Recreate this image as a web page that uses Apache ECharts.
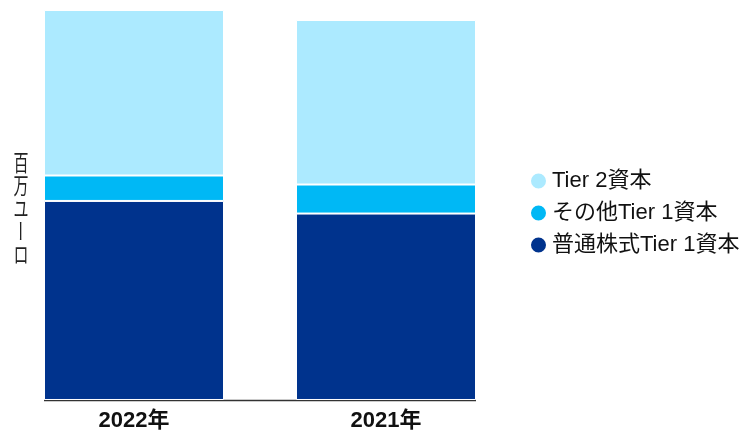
<!DOCTYPE html>
<html>
<head>
<meta charset="utf-8">
<script src="https://cdn.jsdelivr.net/npm/echarts@6/dist/echarts.min.js"></script>
<style>
  html, body { margin: 0; padding: 0; background: #fff; }
  #main { width: 752px; height: 432px; }
</style>
</head>
<body>
<div id="main"></div>
<script>
// data (百万ユーロ)
const years = ['2022年', '2021年'];
const cet1 = [19880, 18620];      // 普通株式Tier 1資本
const at1 = [2540, 2900];         // その他Tier 1資本
const tier2 = [16530, 16430];     // Tier 2資本
const unitChars = ['百', '万', 'ユ', 'ー', 'ロ'];

const font = '"Liberation Sans", "Noto Sans CJK JP", sans-serif';
const barW = 180;

const chart = echarts.init(document.getElementById('main'), null, { renderer: 'canvas' });

const option = {
  animation: false,
  textStyle: { fontFamily: font },
  grid: { left: 8, right: 240, top: 10, bottom: 32 },
  legend: {
    orient: 'vertical',
    left: 524,
    top: 165,
    icon: 'circle',
    itemWidth: 17,
    itemHeight: 17,
    itemGap: 10,
    data: ['Tier 2資本', 'その他Tier 1資本', '普通株式Tier 1資本'],
    textStyle: { fontSize: 22, lineHeight: 22, color: '#111', fontFamily: font }
  },
  xAxis: {
    type: 'category',
    data: years,
    axisLine: { show: false },
    axisTick: { show: false },
    axisLabel: { fontSize: 22, fontWeight: 'bold', color: '#111', margin: 10, fontFamily: font }
  },
  yAxis: {
    type: 'value',
    min: 0,
    max: 38950,
    show: false
  },
  series: [
    {
      name: '普通株式Tier 1資本', type: 'bar', stack: 'cap', barWidth: barW,
      itemStyle: { color: '#00338D', borderColor: '#fff', borderWidth: 1 },
      data: cet1
    },
    {
      name: 'その他Tier 1資本', type: 'bar', stack: 'cap', barWidth: barW,
      itemStyle: { color: '#00B8F5', borderColor: '#fff', borderWidth: 1 },
      data: at1
    },
    {
      name: 'Tier 2資本', type: 'bar', stack: 'cap', barWidth: barW,
      itemStyle: { color: '#ACEAFF', borderColor: '#fff', borderWidth: 1 },
      data: tier2
    }
  ]
};
chart.setOption(option);

// baseline under the bars only, and the vertical unit label
const p0 = chart.convertToPixel({ seriesIndex: 0 }, [0, 0]);
const p1 = chart.convertToPixel({ seriesIndex: 0 }, [1, 0]);
const graphics = [{
  type: 'line',
  shape: { x1: p0[0] - barW / 2, y1: p0[1] + 0.5, x2: p1[0] + barW / 2, y2: p1[1] + 0.5 },
  style: { stroke: '#333', lineWidth: 1.5 }
}];
unitChars.forEach(function (c, i) {
  graphics.push({
    type: 'text',
    x: 21,
    y: 162 + i * 23,
    rotation: c === 'ー' ? -Math.PI / 2 : 0,
    scaleY: c === 'ー' ? 1 : 1.5,
    scaleX: c === 'ー' ? 1.5 : 1,
    style: {
      text: c, fontSize: 15, fill: '#222', fontFamily: '"Noto Sans CJK JP", sans-serif',
      align: 'center', verticalAlign: 'middle'
    }
  });
});
chart.setOption({ graphic: graphics });
</script>
</body>
</html>
